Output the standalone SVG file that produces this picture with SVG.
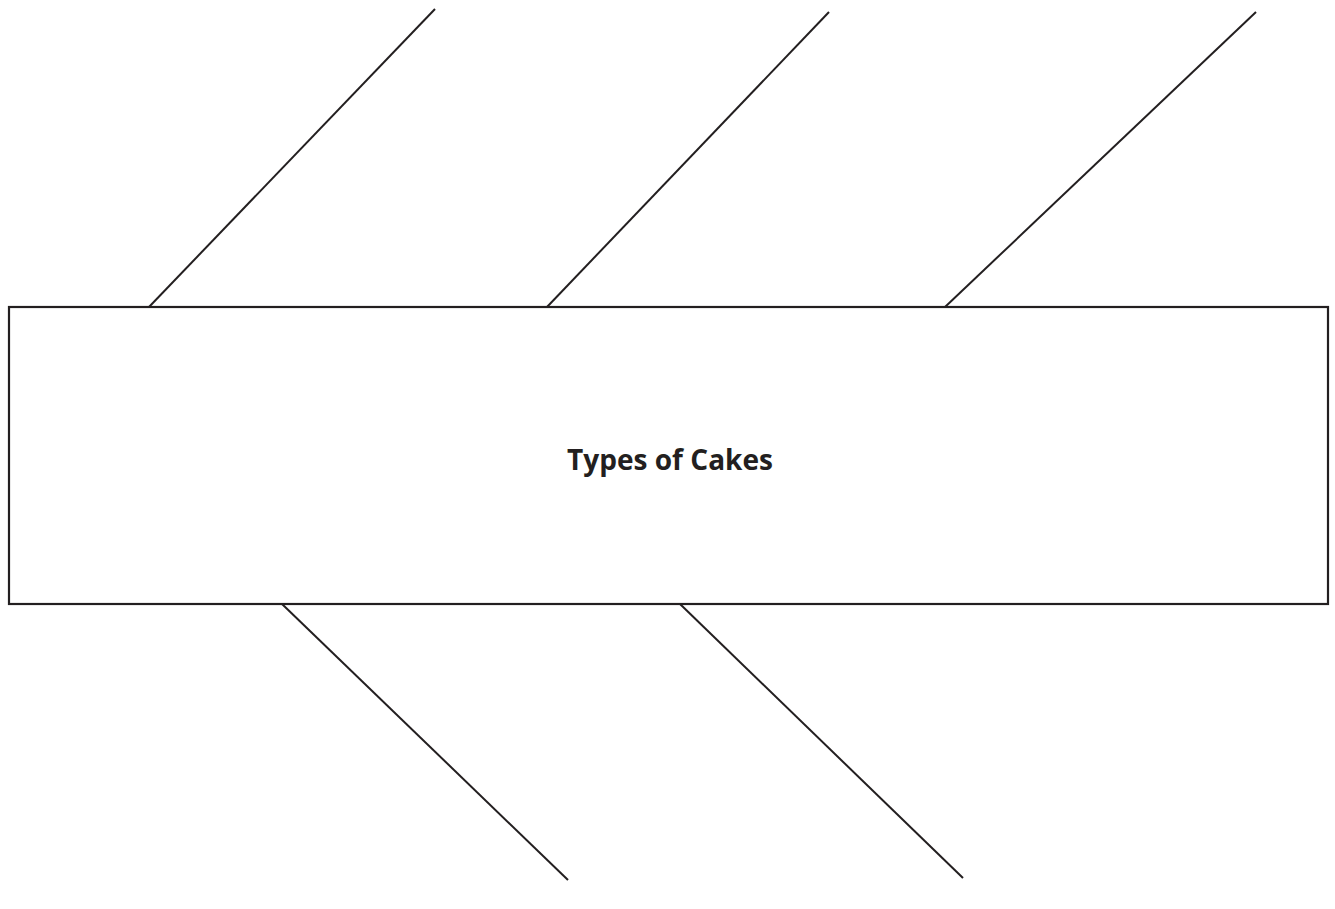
<svg xmlns="http://www.w3.org/2000/svg" width="1335" height="909" viewBox="0 0 1335 909">
<style>
.ln{stroke:#231f20;stroke-width:2;fill:none}
.box{stroke:#231f20;stroke-width:2.2;fill:#fff}
.t{font-family:"Open Sans","Liberation Sans",sans-serif;font-weight:bold;font-size:29px;fill:#231f20}
</style>
<rect width="1335" height="909" fill="#fff"/>
<g id="connectors">
<line class="ln" x1="149" y1="307" x2="435" y2="9"/>
<line class="ln" x1="547" y1="307" x2="829" y2="12"/>
<line class="ln" x1="945" y1="307" x2="1256" y2="12"/>
<line class="ln" x1="282" y1="604" x2="568" y2="880"/>
<line class="ln" x1="680" y1="604" x2="963" y2="878"/>
</g>
<g id="main">
<rect class="box" x="9" y="307" width="1319" height="297"/>
<text class="t" x="670" y="470" text-anchor="middle" textLength="206" lengthAdjust="spacingAndGlyphs">Types of Cakes</text>
</g>
</svg>
